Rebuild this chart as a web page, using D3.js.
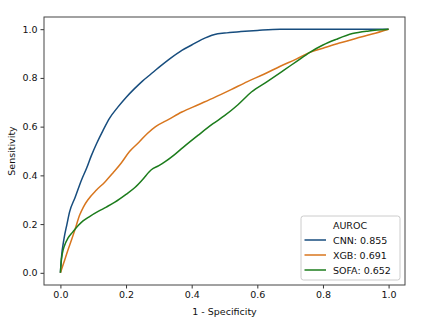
<!DOCTYPE html>
<html><head><meta charset="utf-8">
<script src="https://cdn.jsdelivr.net/npm/d3@7"></script>
<style>body{margin:0;background:#fff}svg{display:block}text{font-family:"DejaVu Sans",sans-serif}</style>
</head><body><svg id="c" width="435" height="328"></svg>
<script>
const xTicks=[0,0.2,0.4,0.6,0.8,1.0];
const yTicks=[0,0.2,0.4,0.6,0.8,1.0];
const seriesNames=["CNN: 0.855","XGB: 0.691","SOFA: 0.652"];
const seriesColors=["#174d7e","#d8761e","#1c7c1c"];
const cnn=[[0,0],[0.003,0.06],[0.011,0.14],[0.02,0.2],[0.028,0.25],[0.045,0.31],[0.064,0.38],[0.08,0.43],[0.094,0.48],[0.11,0.53],[0.13,0.585],[0.15,0.635],[0.175,0.68],[0.2,0.72],[0.225,0.755],[0.25,0.787],[0.275,0.815],[0.3,0.843],[0.33,0.875],[0.37,0.913],[0.4,0.935],[0.43,0.957],[0.47,0.978],[0.5,0.984],[0.55,0.99],[0.6,0.995],[0.67,1.0],[1,1]];
const xgb=[[0,0],[0.01,0.04],[0.023,0.094],[0.035,0.14],[0.044,0.176],[0.059,0.238],[0.07,0.27],[0.084,0.30],[0.11,0.34],[0.135,0.372],[0.16,0.41],[0.186,0.452],[0.21,0.497],[0.24,0.537],[0.265,0.572],[0.29,0.6],[0.33,0.63],[0.37,0.66],[0.42,0.69],[0.47,0.72],[0.52,0.752],[0.57,0.785],[0.62,0.815],[0.67,0.848],[0.72,0.878],[0.76,0.905],[0.8,0.922],[0.85,0.943],[0.9,0.962],[0.95,0.98],[1,1]];
const sofa=[[0,0],[0.002,0.04],[0.006,0.08],[0.012,0.11],[0.023,0.142],[0.038,0.168],[0.055,0.195],[0.069,0.213],[0.09,0.232],[0.115,0.252],[0.14,0.27],[0.166,0.29],[0.2,0.322],[0.227,0.35],[0.25,0.382],[0.277,0.423],[0.3,0.44],[0.318,0.455],[0.345,0.482],[0.374,0.515],[0.42,0.565],[0.465,0.612],[0.5,0.645],[0.541,0.69],[0.582,0.742],[0.63,0.785],[0.679,0.83],[0.72,0.868],[0.76,0.905],[0.8,0.935],[0.84,0.958],[0.89,0.982],[0.94,0.993],[1,1]];
const series=[cnn,xgb,sofa];

const svg=d3.select("#c");
const L=44,R=405,T=17,B=285;
const x=d3.scaleLinear().domain([-0.05,1.05]).range([L,R]);
const y=d3.scaleLinear().domain([-0.05,1.05]).range([B,T]);
const fs=9.5;

const gx=svg.append("g").attr("transform",`translate(0,${B})`)
 .call(d3.axisBottom(x).tickValues(xTicks).tickFormat(d3.format(".1f")).tickSize(3.5).tickPadding(3));
const gy=svg.append("g").attr("transform",`translate(${L},0)`)
 .call(d3.axisLeft(y).tickValues(yTicks).tickFormat(d3.format(".1f")).tickSize(3.5).tickPadding(3));
[gx,gy].forEach(g=>{g.select(".domain").remove();g.selectAll("line").attr("stroke","#333");g.selectAll("text").attr("font-size",fs).attr("fill","#111").style("font-family","DejaVu Sans");});

const line=d3.line().x(d=>x(d[0])).y(d=>y(d[1])).curve(d3.curveMonotoneX);
series.forEach((s,i)=>{
 svg.append("path").datum(s).attr("d",line).attr("fill","none").attr("stroke",seriesColors[i]).attr("stroke-width",1.5);
});
svg.append("rect").attr("x",L).attr("y",T).attr("width",R-L).attr("height",B-T).attr("fill","none").attr("stroke","#444").attr("stroke-width",1);

svg.append("text").attr("x",(L+R)/2).attr("y",315).attr("text-anchor","middle").attr("font-size",fs).attr("fill","#111").text("1 - Specificity");
svg.append("text").attr("transform",`translate(15,${(T+B)/2}) rotate(-90)`).attr("text-anchor","middle").attr("font-size",fs).attr("fill","#111").text("Sensitivity");

const lg=svg.append("g");
lg.append("rect").attr("x",301).attr("y",216).attr("width",99).attr("height",64).attr("rx",2.5).attr("fill","#fff").attr("stroke","#ccc").attr("stroke-width",1);
lg.append("text").attr("x",350).attr("y",228.5).attr("text-anchor","middle").attr("font-size",fs).attr("fill","#111").text("AUROC");
seriesNames.forEach((n,i)=>{
 const yy=240+i*15;
 lg.append("line").attr("x1",304.5).attr("x2",326).attr("y1",yy).attr("y2",yy).attr("stroke",seriesColors[i]).attr("stroke-width",1.5);
 lg.append("text").attr("x",333).attr("y",yy+3.5).attr("font-size",fs).attr("fill","#111").text(n);
});
</script></body></html>
